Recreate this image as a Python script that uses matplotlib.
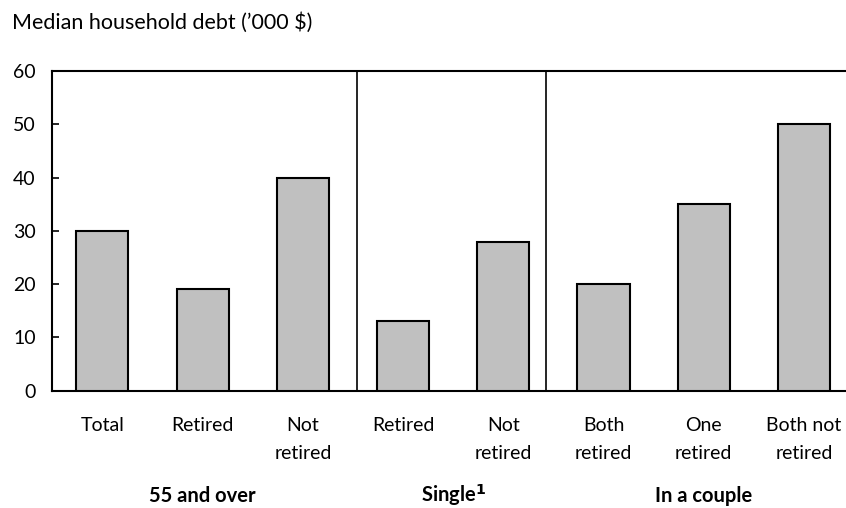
import matplotlib
matplotlib.use("Agg")
import matplotlib.pyplot as plt

categories = ["Total", "Retired", "Not\nretired", "Retired", "Not\nretired",
              "Both\nretired", "One\nretired", "Both not\nretired"]
values = [30, 19, 40, 13, 28, 20, 35, 50]
groups = ["55 and over", "Single$^{\\mathbf{1}}$", "In a couple"]
group_centers = [1, 3.5, 6]
separators = [2.54, 4.43]
yticks = [0, 10, 20, 30, 40, 50, 60]

plt.rcParams['font.family'] = ['Lato', 'DejaVu Sans']

fig = plt.figure(figsize=(8.46, 5.08), dpi=100)
ax = fig.add_axes([0.0618, 0.2309, 0.9382, 0.6293])

x = list(range(len(values)))
ax.bar(x, values, width=0.52, color="#c0c0c0", edgecolor="black", linewidth=1.5, zorder=3)

for s in separators:
    ax.axvline(s, color="black", linewidth=1.2, zorder=2)

ax.set_xlim(-0.5, 7.42)
ax.set_ylim(0, 60)
ax.set_yticks(yticks)
ax.set_yticklabels([str(v) for v in yticks], fontsize=14)
ax.tick_params(axis="y", direction="in", length=5, width=1.2, pad=12)
ax.set_xticks(x)
ax.set_xticklabels(categories, fontsize=14, linespacing=1.75, va="top")
ax.tick_params(axis="x", length=0, pad=19)

for side in ["left", "top", "bottom"]:
    ax.spines[side].set_linewidth(1.5)
ax.spines["right"].set_visible(False)

for c, g in zip(group_centers, groups):
    ax.text(c, -0.348, g, transform=ax.get_xaxis_transform(), ha="center", va="baseline",
            fontsize=14.5, fontweight="bold")

fig.text(12 / 846, 1 - 23 / 508, "Median household debt (\u2019000 $)", ha="left", va="center", fontsize=15.5)

fig.savefig("out.png", dpi=100)
